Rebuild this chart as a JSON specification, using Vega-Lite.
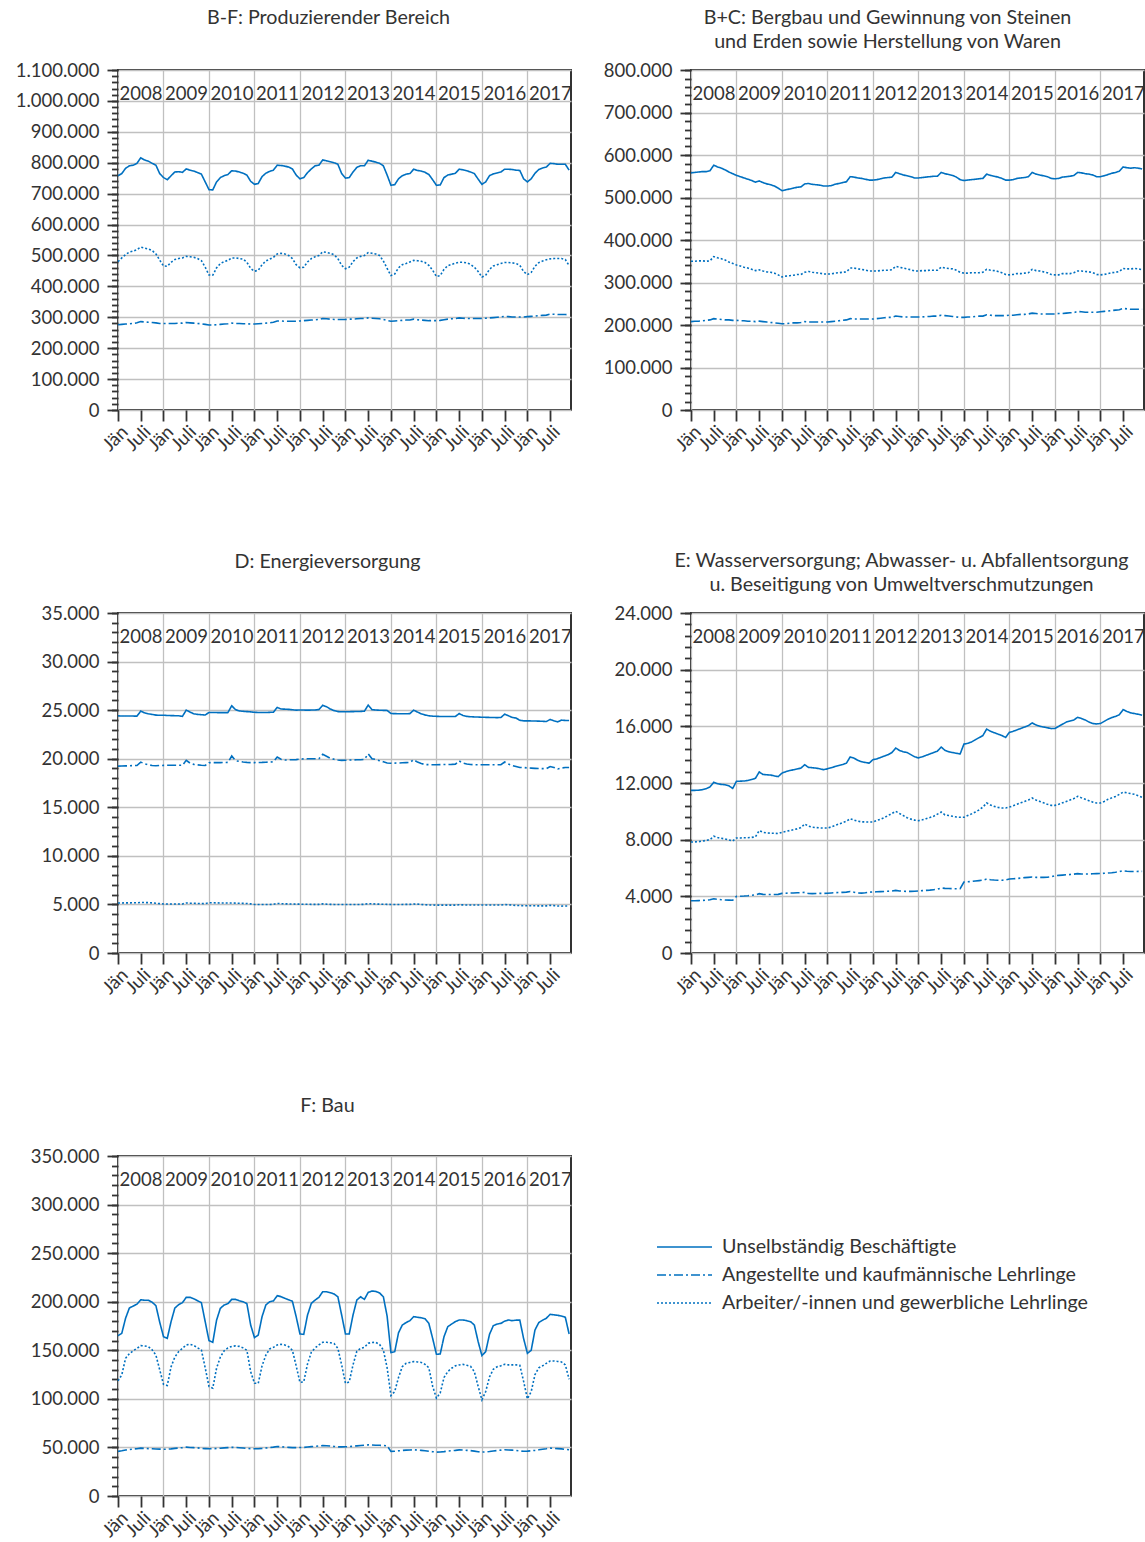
{
"$schema": "https://vega.github.io/schema/vega-lite/v6.json",
"padding": {"left": 14, "top": 7, "right": 0, "bottom": 0},
"background": "white",
"bounds": "flush",
"columns": 2,
"spacing": {"column": 120, "row": 203},
"config": {
  "font": "Lato",
  "view": {"stroke": "#333333", "strokeWidth": 2},
  "axis": {"labelFont": "Lato", "labelFontSize": 18.5, "labelColor": "#333333", "tickColor": "#333333", "tickWidth": 1.8, "gridColor": "#c0c0c0", "gridWidth": 1.3, "domain": false},
  "title": {"font": "Lato", "fontSize": 19.7, "fontWeight": "normal", "color": "#333333", "lineHeight": 24, "baseline": "bottom", "frame": "group"},
  "locale": {"number": {"decimal": ",", "thousands": ".", "grouping": [3], "currency": ["", " €"]}}
},
"resolve": {"scale": {"strokeDash": "independent"}, "legend": {"strokeDash": "independent"}},
"datasets": {
"bf": [
{"t":0,"U":758000,"A":276000,"R":480000},{"t":1,"U":765000,"A":277000,"R":492000},{"t":2,"U":782000,"A":278000,"R":503000},{"t":3,"U":790000,"A":279000,"R":511000},{"t":4,"U":792000,"A":280000,"R":514000},{"t":5,"U":798000,"A":282000,"R":519000},{"t":6,"U":816000,"A":286000,"R":527000},{"t":7,"U":809000,"A":285000,"R":524000},{"t":8,"U":805000,"A":284000,"R":521000},{"t":9,"U":798000,"A":283000,"R":516000},{"t":10,"U":792000,"A":282000,"R":505000},{"t":11,"U":765000,"A":280000,"R":485000},
{"t":12,"U":752000,"A":280000,"R":466000},{"t":13,"U":745000,"A":280000,"R":465000},{"t":14,"U":758000,"A":280000,"R":478000},{"t":15,"U":770000,"A":280000,"R":487000},{"t":16,"U":771000,"A":281000,"R":490000},{"t":17,"U":769000,"A":281000,"R":492000},{"t":18,"U":780000,"A":283000,"R":497000},{"t":19,"U":776000,"A":282000,"R":496000},{"t":20,"U":773000,"A":281000,"R":494000},{"t":21,"U":768000,"A":280000,"R":490000},{"t":22,"U":763000,"A":279000,"R":483000},{"t":23,"U":738000,"A":277000,"R":462000},
{"t":24,"U":713000,"A":275000,"R":437000},{"t":25,"U":712000,"A":275000,"R":436000},{"t":26,"U":738000,"A":276000,"R":460000},{"t":27,"U":752000,"A":277000,"R":474000},{"t":28,"U":758000,"A":278000,"R":480000},{"t":29,"U":762000,"A":279000,"R":484000},{"t":30,"U":774000,"A":281000,"R":492000},{"t":31,"U":773000,"A":280000,"R":492000},{"t":32,"U":770000,"A":280000,"R":490000},{"t":33,"U":766000,"A":279000,"R":488000},{"t":34,"U":760000,"A":279000,"R":478000},{"t":35,"U":740000,"A":278000,"R":458000},
{"t":36,"U":730000,"A":278000,"R":449000},{"t":37,"U":733000,"A":279000,"R":452000},{"t":38,"U":755000,"A":280000,"R":470000},{"t":39,"U":766000,"A":281000,"R":482000},{"t":40,"U":772000,"A":282000,"R":488000},{"t":41,"U":776000,"A":284000,"R":494000},{"t":42,"U":792000,"A":288000,"R":505000},{"t":43,"U":791000,"A":288000,"R":507000},{"t":44,"U":789000,"A":287000,"R":505000},{"t":45,"U":786000,"A":287000,"R":500000},{"t":46,"U":780000,"A":287000,"R":490000},{"t":47,"U":760000,"A":287000,"R":470000},
{"t":48,"U":748000,"A":288000,"R":460000},{"t":49,"U":752000,"A":289000,"R":462000},{"t":50,"U":768000,"A":290000,"R":479000},{"t":51,"U":780000,"A":291000,"R":490000},{"t":52,"U":790000,"A":292000,"R":496000},{"t":53,"U":792000,"A":293000,"R":500000},{"t":54,"U":809000,"A":296000,"R":512000},{"t":55,"U":806000,"A":295000,"R":510000},{"t":56,"U":803000,"A":294000,"R":507000},{"t":57,"U":800000,"A":293000,"R":502000},{"t":58,"U":795000,"A":293000,"R":490000},{"t":59,"U":765000,"A":293000,"R":468000},
{"t":60,"U":750000,"A":293000,"R":457000},{"t":61,"U":752000,"A":294000,"R":462000},{"t":62,"U":770000,"A":294000,"R":480000},{"t":63,"U":785000,"A":295000,"R":492000},{"t":64,"U":790000,"A":296000,"R":497000},{"t":65,"U":790000,"A":296000,"R":500000},{"t":66,"U":808000,"A":298000,"R":509000},{"t":67,"U":805000,"A":297000,"R":507000},{"t":68,"U":802000,"A":296000,"R":505000},{"t":69,"U":798000,"A":295000,"R":500000},{"t":70,"U":790000,"A":293000,"R":482000},{"t":71,"U":760000,"A":290000,"R":458000},
{"t":72,"U":727000,"A":287000,"R":435000},{"t":73,"U":729000,"A":288000,"R":440000},{"t":74,"U":748000,"A":289000,"R":460000},{"t":75,"U":758000,"A":290000,"R":470000},{"t":76,"U":763000,"A":291000,"R":474000},{"t":77,"U":765000,"A":291000,"R":479000},{"t":78,"U":779000,"A":294000,"R":484000},{"t":79,"U":775000,"A":292000,"R":483000},{"t":80,"U":773000,"A":291000,"R":481000},{"t":81,"U":769000,"A":290000,"R":477000},{"t":82,"U":762000,"A":289000,"R":468000},{"t":83,"U":745000,"A":289000,"R":452000},
{"t":84,"U":727000,"A":289000,"R":432000},{"t":85,"U":728000,"A":290000,"R":435000},{"t":86,"U":752000,"A":292000,"R":455000},{"t":87,"U":760000,"A":294000,"R":467000},{"t":88,"U":763000,"A":295000,"R":471000},{"t":89,"U":766000,"A":296000,"R":475000},{"t":90,"U":779000,"A":298000,"R":478000},{"t":91,"U":777000,"A":297000,"R":478000},{"t":92,"U":774000,"A":296000,"R":476000},{"t":93,"U":770000,"A":296000,"R":471000},{"t":94,"U":765000,"A":296000,"R":462000},{"t":95,"U":747000,"A":296000,"R":448000},
{"t":96,"U":730000,"A":296000,"R":430000},{"t":97,"U":738000,"A":297000,"R":436000},{"t":98,"U":758000,"A":298000,"R":455000},{"t":99,"U":764000,"A":299000,"R":466000},{"t":100,"U":767000,"A":300000,"R":470000},{"t":101,"U":770000,"A":301000,"R":474000},{"t":102,"U":779000,"A":303000,"R":477000},{"t":103,"U":779000,"A":302000,"R":477000},{"t":104,"U":778000,"A":301000,"R":476000},{"t":105,"U":776000,"A":301000,"R":474000},{"t":106,"U":775000,"A":301000,"R":468000},{"t":107,"U":748000,"A":301000,"R":448000},
{"t":108,"U":738000,"A":302000,"R":438000},{"t":109,"U":748000,"A":303000,"R":445000},{"t":110,"U":766000,"A":304000,"R":465000},{"t":111,"U":778000,"A":305000,"R":477000},{"t":112,"U":783000,"A":306000,"R":482000},{"t":113,"U":786000,"A":307000,"R":486000},{"t":114,"U":798000,"A":310000,"R":489000},{"t":115,"U":797000,"A":310000,"R":490000},{"t":116,"U":795000,"A":309000,"R":490000},{"t":117,"U":795000,"A":309000,"R":490000},{"t":118,"U":795000,"A":309000,"R":487000},{"t":119,"U":776000,"A":308000,"R":467000}
],
"bc": [
{"t":0,"U":558000,"A":208000,"R":350000},{"t":1,"U":559000,"A":209000,"R":350000},{"t":2,"U":560000,"A":209000,"R":351000},{"t":3,"U":561000,"A":210000,"R":351000},{"t":4,"U":561000,"A":211000,"R":350000},{"t":5,"U":563000,"A":212000,"R":351000},{"t":6,"U":576000,"A":215000,"R":361000},{"t":7,"U":572000,"A":214000,"R":358000},{"t":8,"U":569000,"A":213000,"R":356000},{"t":9,"U":565000,"A":212000,"R":353000},{"t":10,"U":560000,"A":212000,"R":348000},{"t":11,"U":556000,"A":211000,"R":345000},
{"t":12,"U":552000,"A":211000,"R":341000},{"t":13,"U":549000,"A":210000,"R":339000},{"t":14,"U":546000,"A":210000,"R":336000},{"t":15,"U":543000,"A":209000,"R":334000},{"t":16,"U":540000,"A":209000,"R":331000},{"t":17,"U":536000,"A":208000,"R":328000},{"t":18,"U":539000,"A":209000,"R":330000},{"t":19,"U":535000,"A":208000,"R":327000},{"t":20,"U":532000,"A":207000,"R":325000},{"t":21,"U":530000,"A":206000,"R":324000},{"t":22,"U":527000,"A":205000,"R":322000},{"t":23,"U":522000,"A":204000,"R":318000},
{"t":24,"U":516000,"A":203000,"R":313000},{"t":25,"U":518000,"A":203000,"R":315000},{"t":26,"U":520000,"A":204000,"R":316000},{"t":27,"U":522000,"A":205000,"R":317000},{"t":28,"U":524000,"A":205000,"R":319000},{"t":29,"U":525000,"A":206000,"R":319000},{"t":30,"U":532000,"A":208000,"R":324000},{"t":31,"U":533000,"A":207000,"R":326000},{"t":32,"U":531000,"A":207000,"R":324000},{"t":33,"U":530000,"A":207000,"R":323000},{"t":34,"U":529000,"A":207000,"R":322000},{"t":35,"U":527000,"A":207000,"R":320000},
{"t":36,"U":527000,"A":207000,"R":320000},{"t":37,"U":528000,"A":208000,"R":320000},{"t":38,"U":531000,"A":209000,"R":322000},{"t":39,"U":533000,"A":210000,"R":323000},{"t":40,"U":535000,"A":211000,"R":324000},{"t":41,"U":537000,"A":212000,"R":325000},{"t":42,"U":549000,"A":215000,"R":334000},{"t":43,"U":548000,"A":214000,"R":334000},{"t":44,"U":546000,"A":214000,"R":332000},{"t":45,"U":545000,"A":214000,"R":331000},{"t":46,"U":543000,"A":214000,"R":329000},{"t":47,"U":541000,"A":214000,"R":327000},
{"t":48,"U":541000,"A":214000,"R":327000},{"t":49,"U":542000,"A":215000,"R":327000},{"t":50,"U":544000,"A":216000,"R":328000},{"t":51,"U":546000,"A":217000,"R":329000},{"t":52,"U":547000,"A":218000,"R":329000},{"t":53,"U":548000,"A":218000,"R":330000},{"t":54,"U":559000,"A":221000,"R":338000},{"t":55,"U":556000,"A":220000,"R":336000},{"t":56,"U":553000,"A":219000,"R":334000},{"t":57,"U":551000,"A":219000,"R":332000},{"t":58,"U":549000,"A":219000,"R":330000},{"t":59,"U":546000,"A":219000,"R":327000},
{"t":60,"U":546000,"A":219000,"R":327000},{"t":61,"U":547000,"A":219000,"R":328000},{"t":62,"U":548000,"A":220000,"R":328000},{"t":63,"U":549000,"A":220000,"R":329000},{"t":64,"U":550000,"A":221000,"R":329000},{"t":65,"U":550000,"A":221000,"R":329000},{"t":66,"U":559000,"A":223000,"R":336000},{"t":67,"U":556000,"A":222000,"R":334000},{"t":68,"U":554000,"A":221000,"R":333000},{"t":69,"U":552000,"A":220000,"R":332000},{"t":70,"U":548000,"A":219000,"R":329000},{"t":71,"U":542000,"A":218000,"R":324000},
{"t":72,"U":540000,"A":218000,"R":322000},{"t":73,"U":541000,"A":219000,"R":322000},{"t":74,"U":542000,"A":219000,"R":323000},{"t":75,"U":543000,"A":220000,"R":323000},{"t":76,"U":544000,"A":221000,"R":323000},{"t":77,"U":545000,"A":221000,"R":324000},{"t":78,"U":555000,"A":224000,"R":331000},{"t":79,"U":552000,"A":223000,"R":329000},{"t":80,"U":550000,"A":222000,"R":328000},{"t":81,"U":548000,"A":222000,"R":326000},{"t":82,"U":545000,"A":222000,"R":323000},{"t":83,"U":541000,"A":222000,"R":319000},
{"t":84,"U":541000,"A":223000,"R":318000},{"t":85,"U":542000,"A":223000,"R":319000},{"t":86,"U":545000,"A":224000,"R":321000},{"t":87,"U":546000,"A":225000,"R":321000},{"t":88,"U":547000,"A":225000,"R":322000},{"t":89,"U":549000,"A":226000,"R":323000},{"t":90,"U":559000,"A":228000,"R":331000},{"t":91,"U":555000,"A":227000,"R":328000},{"t":92,"U":553000,"A":226000,"R":327000},{"t":93,"U":551000,"A":226000,"R":325000},{"t":94,"U":549000,"A":226000,"R":323000},{"t":95,"U":545000,"A":226000,"R":319000},
{"t":96,"U":544000,"A":226000,"R":318000},{"t":97,"U":545000,"A":227000,"R":318000},{"t":98,"U":548000,"A":227000,"R":321000},{"t":99,"U":549000,"A":228000,"R":321000},{"t":100,"U":550000,"A":229000,"R":321000},{"t":101,"U":552000,"A":229000,"R":323000},{"t":102,"U":559000,"A":232000,"R":327000},{"t":103,"U":558000,"A":231000,"R":327000},{"t":104,"U":556000,"A":230000,"R":326000},{"t":105,"U":555000,"A":230000,"R":325000},{"t":106,"U":553000,"A":230000,"R":323000},{"t":107,"U":549000,"A":230000,"R":319000},
{"t":108,"U":549000,"A":231000,"R":318000},{"t":109,"U":551000,"A":232000,"R":319000},{"t":110,"U":554000,"A":233000,"R":321000},{"t":111,"U":557000,"A":234000,"R":323000},{"t":112,"U":559000,"A":235000,"R":324000},{"t":113,"U":562000,"A":236000,"R":326000},{"t":114,"U":572000,"A":239000,"R":333000},{"t":115,"U":570000,"A":238000,"R":332000},{"t":116,"U":569000,"A":237000,"R":332000},{"t":117,"U":570000,"A":237000,"R":333000},{"t":118,"U":569000,"A":237000,"R":332000},{"t":119,"U":567000,"A":237000,"R":330000}
],
"d": [
{"t":0,"U":24410,"A":19240,"R":5150},{"t":1,"U":24400,"A":19250,"R":5150},{"t":2,"U":24400,"A":19260,"R":5160},{"t":3,"U":24390,"A":19270,"R":5160},{"t":4,"U":24390,"A":19290,"R":5170},{"t":5,"U":24380,"A":19300,"R":5170},{"t":6,"U":24900,"A":19650,"R":5200},{"t":7,"U":24720,"A":19480,"R":5190},{"t":8,"U":24620,"A":19380,"R":5180},{"t":9,"U":24560,"A":19300,"R":5160},{"t":10,"U":24490,"A":19280,"R":5120},{"t":11,"U":24470,"A":19300,"R":5080},
{"t":12,"U":24480,"A":19310,"R":5050},{"t":13,"U":24450,"A":19320,"R":5040},{"t":14,"U":24440,"A":19320,"R":5040},{"t":15,"U":24430,"A":19330,"R":5040},{"t":16,"U":24420,"A":19330,"R":5040},{"t":17,"U":24360,"A":19330,"R":5050},{"t":18,"U":25000,"A":19830,"R":5150},{"t":19,"U":24800,"A":19550,"R":5130},{"t":20,"U":24620,"A":19420,"R":5120},{"t":21,"U":24560,"A":19370,"R":5100},{"t":22,"U":24530,"A":19330,"R":5090},{"t":23,"U":24500,"A":19300,"R":5080},
{"t":24,"U":24760,"A":19590,"R":5170},{"t":25,"U":24760,"A":19600,"R":5170},{"t":26,"U":24750,"A":19600,"R":5160},{"t":27,"U":24740,"A":19600,"R":5150},{"t":28,"U":24740,"A":19610,"R":5150},{"t":29,"U":24750,"A":19620,"R":5140},{"t":30,"U":25450,"A":20280,"R":5150},{"t":31,"U":25050,"A":19800,"R":5130},{"t":32,"U":24920,"A":19720,"R":5120},{"t":33,"U":24880,"A":19660,"R":5110},{"t":34,"U":24850,"A":19620,"R":5100},{"t":35,"U":24820,"A":19600,"R":5060},
{"t":36,"U":24780,"A":19600,"R":5000},{"t":37,"U":24760,"A":19610,"R":4990},{"t":38,"U":24750,"A":19620,"R":4990},{"t":39,"U":24760,"A":19640,"R":4990},{"t":40,"U":24770,"A":19660,"R":5000},{"t":41,"U":24790,"A":19680,"R":5010},{"t":42,"U":25280,"A":20170,"R":5100},{"t":43,"U":25120,"A":19940,"R":5080},{"t":44,"U":25100,"A":19870,"R":5060},{"t":45,"U":25080,"A":19880,"R":5050},{"t":46,"U":25040,"A":19900,"R":5040},{"t":47,"U":25000,"A":19910,"R":5030},
{"t":48,"U":25020,"A":19960,"R":5030},{"t":49,"U":25010,"A":19980,"R":5020},{"t":50,"U":25000,"A":19990,"R":5020},{"t":51,"U":25010,"A":20000,"R":5010},{"t":52,"U":25020,"A":20000,"R":5010},{"t":53,"U":25060,"A":20000,"R":5010},{"t":54,"U":25500,"A":20450,"R":5060},{"t":55,"U":25350,"A":20250,"R":5030},{"t":56,"U":25120,"A":20050,"R":5010},{"t":57,"U":24950,"A":19940,"R":5000},{"t":58,"U":24850,"A":19860,"R":5000},{"t":59,"U":24830,"A":19830,"R":4990},
{"t":60,"U":24830,"A":19840,"R":5000},{"t":61,"U":24840,"A":19860,"R":5000},{"t":62,"U":24850,"A":19880,"R":5000},{"t":63,"U":24860,"A":19890,"R":5000},{"t":64,"U":24870,"A":19900,"R":5000},{"t":65,"U":24890,"A":19920,"R":5010},{"t":66,"U":25520,"A":20500,"R":5080},{"t":67,"U":25050,"A":20000,"R":5060},{"t":68,"U":25010,"A":19920,"R":5040},{"t":69,"U":24990,"A":19800,"R":5030},{"t":70,"U":24980,"A":19680,"R":5020},{"t":71,"U":24970,"A":19560,"R":5010},
{"t":72,"U":24650,"A":19540,"R":5000},{"t":73,"U":24640,"A":19550,"R":5000},{"t":74,"U":24630,"A":19560,"R":5000},{"t":75,"U":24630,"A":19580,"R":5000},{"t":76,"U":24630,"A":19600,"R":5010},{"t":77,"U":24640,"A":19620,"R":5010},{"t":78,"U":25000,"A":19900,"R":5040},{"t":79,"U":24800,"A":19650,"R":5030},{"t":80,"U":24620,"A":19500,"R":5000},{"t":81,"U":24500,"A":19400,"R":4970},{"t":82,"U":24420,"A":19390,"R":4950},{"t":83,"U":24380,"A":19380,"R":4940},
{"t":84,"U":24360,"A":19380,"R":4930},{"t":85,"U":24350,"A":19390,"R":4930},{"t":86,"U":24350,"A":19400,"R":4930},{"t":87,"U":24340,"A":19410,"R":4930},{"t":88,"U":24340,"A":19420,"R":4930},{"t":89,"U":24350,"A":19440,"R":4930},{"t":90,"U":24650,"A":19770,"R":4960},{"t":91,"U":24450,"A":19550,"R":4950},{"t":92,"U":24360,"A":19450,"R":4940},{"t":93,"U":24320,"A":19400,"R":4940},{"t":94,"U":24300,"A":19380,"R":4940},{"t":95,"U":24290,"A":19380,"R":4940},
{"t":96,"U":24270,"A":19380,"R":4940},{"t":97,"U":24260,"A":19380,"R":4940},{"t":98,"U":24250,"A":19380,"R":4940},{"t":99,"U":24240,"A":19380,"R":4940},{"t":100,"U":24230,"A":19380,"R":4940},{"t":101,"U":24240,"A":19390,"R":4940},{"t":102,"U":24590,"A":19660,"R":4980},{"t":103,"U":24420,"A":19450,"R":4960},{"t":104,"U":24250,"A":19300,"R":4930},{"t":105,"U":24180,"A":19200,"R":4900},{"t":106,"U":23950,"A":19100,"R":4880},{"t":107,"U":23900,"A":19090,"R":4870},
{"t":108,"U":23900,"A":19050,"R":4860},{"t":109,"U":23890,"A":19030,"R":4860},{"t":110,"U":23880,"A":19010,"R":4860},{"t":111,"U":23870,"A":18990,"R":4850},{"t":112,"U":23850,"A":18980,"R":4850},{"t":113,"U":23830,"A":18970,"R":4850},{"t":114,"U":24040,"A":19200,"R":4900},{"t":115,"U":23900,"A":19100,"R":4880},{"t":116,"U":23800,"A":18940,"R":4840},{"t":117,"U":23970,"A":19050,"R":4830},{"t":118,"U":23940,"A":19090,"R":4840},{"t":119,"U":23930,"A":19100,"R":4840}
],
"e": [
{"t":0,"U":11480,"A":3690,"R":7840},{"t":1,"U":11480,"A":3690,"R":7840},{"t":2,"U":11490,"A":3700,"R":7860},{"t":3,"U":11530,"A":3710,"R":7900},{"t":4,"U":11600,"A":3730,"R":7950},{"t":5,"U":11720,"A":3760,"R":8000},{"t":6,"U":12050,"A":3830,"R":8240},{"t":7,"U":11950,"A":3790,"R":8150},{"t":8,"U":11900,"A":3760,"R":8100},{"t":9,"U":11880,"A":3740,"R":8050},{"t":10,"U":11800,"A":3730,"R":7980},{"t":11,"U":11620,"A":3720,"R":7900},
{"t":12,"U":12120,"A":4000,"R":8120},{"t":13,"U":12130,"A":4010,"R":8120},{"t":14,"U":12140,"A":4020,"R":8130},{"t":15,"U":12180,"A":4040,"R":8140},{"t":16,"U":12250,"A":4070,"R":8160},{"t":17,"U":12330,"A":4100,"R":8200},{"t":18,"U":12780,"A":4190,"R":8640},{"t":19,"U":12600,"A":4140,"R":8520},{"t":20,"U":12580,"A":4130,"R":8480},{"t":21,"U":12560,"A":4130,"R":8460},{"t":22,"U":12500,"A":4130,"R":8450},{"t":23,"U":12450,"A":4140,"R":8430},
{"t":24,"U":12700,"A":4210,"R":8520},{"t":25,"U":12800,"A":4220,"R":8580},{"t":26,"U":12880,"A":4230,"R":8640},{"t":27,"U":12930,"A":4240,"R":8700},{"t":28,"U":12990,"A":4250,"R":8760},{"t":29,"U":13050,"A":4260,"R":8850},{"t":30,"U":13290,"A":4280,"R":9110},{"t":31,"U":13100,"A":4200,"R":8950},{"t":32,"U":13080,"A":4190,"R":8880},{"t":33,"U":13050,"A":4200,"R":8850},{"t":34,"U":13000,"A":4210,"R":8830},{"t":35,"U":12940,"A":4210,"R":8820},
{"t":36,"U":13000,"A":4220,"R":8820},{"t":37,"U":13080,"A":4240,"R":8900},{"t":38,"U":13160,"A":4260,"R":9000},{"t":39,"U":13230,"A":4270,"R":9100},{"t":40,"U":13300,"A":4280,"R":9200},{"t":41,"U":13400,"A":4300,"R":9300},{"t":42,"U":13840,"A":4340,"R":9480},{"t":43,"U":13750,"A":4290,"R":9380},{"t":44,"U":13600,"A":4240,"R":9300},{"t":45,"U":13500,"A":4230,"R":9260},{"t":46,"U":13450,"A":4250,"R":9250},{"t":47,"U":13400,"A":4290,"R":9250},
{"t":48,"U":13650,"A":4310,"R":9250},{"t":49,"U":13700,"A":4320,"R":9350},{"t":50,"U":13800,"A":4330,"R":9450},{"t":51,"U":13900,"A":4340,"R":9560},{"t":52,"U":14000,"A":4360,"R":9700},{"t":53,"U":14150,"A":4380,"R":9850},{"t":54,"U":14470,"A":4420,"R":10000},{"t":55,"U":14300,"A":4380,"R":9850},{"t":56,"U":14200,"A":4360,"R":9700},{"t":57,"U":14150,"A":4350,"R":9550},{"t":58,"U":14000,"A":4350,"R":9450},{"t":59,"U":13850,"A":4360,"R":9380},
{"t":60,"U":13770,"A":4380,"R":9340},{"t":61,"U":13850,"A":4400,"R":9400},{"t":62,"U":13950,"A":4420,"R":9480},{"t":63,"U":14050,"A":4440,"R":9560},{"t":64,"U":14150,"A":4470,"R":9650},{"t":65,"U":14250,"A":4500,"R":9800},{"t":66,"U":14540,"A":4590,"R":9950},{"t":67,"U":14300,"A":4560,"R":9750},{"t":68,"U":14200,"A":4550,"R":9700},{"t":69,"U":14150,"A":4540,"R":9650},{"t":70,"U":14100,"A":4540,"R":9600},{"t":71,"U":14050,"A":4540,"R":9580},
{"t":72,"U":14750,"A":5010,"R":9580},{"t":73,"U":14800,"A":5030,"R":9700},{"t":74,"U":14900,"A":5050,"R":9820},{"t":75,"U":15050,"A":5080,"R":9950},{"t":76,"U":15200,"A":5110,"R":10100},{"t":77,"U":15350,"A":5140,"R":10300},{"t":78,"U":15810,"A":5220,"R":10590},{"t":79,"U":15650,"A":5170,"R":10450},{"t":80,"U":15550,"A":5150,"R":10350},{"t":81,"U":15450,"A":5140,"R":10280},{"t":82,"U":15350,"A":5140,"R":10240},{"t":83,"U":15220,"A":5150,"R":10240},
{"t":84,"U":15580,"A":5220,"R":10300},{"t":85,"U":15650,"A":5240,"R":10400},{"t":86,"U":15750,"A":5260,"R":10500},{"t":87,"U":15850,"A":5290,"R":10600},{"t":88,"U":15950,"A":5320,"R":10700},{"t":89,"U":16050,"A":5340,"R":10800},{"t":90,"U":16240,"A":5360,"R":10940},{"t":91,"U":16100,"A":5340,"R":10800},{"t":92,"U":16000,"A":5340,"R":10700},{"t":93,"U":15950,"A":5340,"R":10600},{"t":94,"U":15900,"A":5350,"R":10500},{"t":95,"U":15840,"A":5380,"R":10420},
{"t":96,"U":15850,"A":5460,"R":10420},{"t":97,"U":16000,"A":5480,"R":10500},{"t":98,"U":16150,"A":5500,"R":10600},{"t":99,"U":16300,"A":5520,"R":10700},{"t":100,"U":16380,"A":5540,"R":10800},{"t":101,"U":16450,"A":5570,"R":10900},{"t":102,"U":16640,"A":5600,"R":11060},{"t":103,"U":16550,"A":5580,"R":10950},{"t":104,"U":16450,"A":5580,"R":10850},{"t":105,"U":16300,"A":5580,"R":10750},{"t":106,"U":16200,"A":5590,"R":10650},{"t":107,"U":16170,"A":5600,"R":10590},
{"t":108,"U":16200,"A":5610,"R":10590},{"t":109,"U":16350,"A":5630,"R":10700},{"t":110,"U":16500,"A":5650,"R":10850},{"t":111,"U":16620,"A":5670,"R":10950},{"t":112,"U":16700,"A":5700,"R":11050},{"t":113,"U":16820,"A":5740,"R":11200},{"t":114,"U":17180,"A":5810,"R":11360},{"t":115,"U":17050,"A":5770,"R":11300},{"t":116,"U":16950,"A":5750,"R":11250},{"t":117,"U":16900,"A":5750,"R":11200},{"t":118,"U":16850,"A":5760,"R":11100},{"t":119,"U":16780,"A":5760,"R":10990}
],
"f": [
{"t":0,"U":165000,"A":45900,"R":118500},{"t":1,"U":167500,"A":46500,"R":124700},{"t":2,"U":183000,"A":47300,"R":141800},{"t":3,"U":193500,"A":47800,"R":146500},{"t":4,"U":195500,"A":48300,"R":149500},{"t":5,"U":197500,"A":48700,"R":152000},{"t":6,"U":202000,"A":49300,"R":154800},{"t":7,"U":201500,"A":49000,"R":154500},{"t":8,"U":201500,"A":48800,"R":153800},{"t":9,"U":199500,"A":48600,"R":150500},{"t":10,"U":196000,"A":48400,"R":145000},{"t":11,"U":179000,"A":48300,"R":130000},
{"t":12,"U":164000,"A":48200,"R":115000},{"t":13,"U":162300,"A":48200,"R":113700},{"t":14,"U":179500,"A":48500,"R":133000},{"t":15,"U":193500,"A":49000,"R":143000},{"t":16,"U":197000,"A":49400,"R":148600},{"t":17,"U":199000,"A":49800,"R":152000},{"t":18,"U":204500,"A":50300,"R":155500},{"t":19,"U":204500,"A":50000,"R":156200},{"t":20,"U":203000,"A":49800,"R":155000},{"t":21,"U":201000,"A":49500,"R":152500},{"t":22,"U":199000,"A":49000,"R":150300},{"t":23,"U":179500,"A":48800,"R":132000},
{"t":24,"U":160000,"A":48600,"R":112700},{"t":25,"U":158200,"A":48600,"R":111000},{"t":26,"U":181000,"A":48900,"R":131500},{"t":27,"U":193200,"A":49200,"R":143000},{"t":28,"U":196600,"A":49500,"R":149500},{"t":29,"U":198000,"A":49800,"R":152500},{"t":30,"U":202400,"A":50100,"R":154000},{"t":31,"U":202400,"A":49900,"R":154500},{"t":32,"U":201000,"A":49700,"R":154000},{"t":33,"U":200000,"A":49400,"R":152500},{"t":34,"U":198000,"A":49000,"R":150000},{"t":35,"U":176000,"A":48800,"R":128000},
{"t":36,"U":163000,"A":48600,"R":116000},{"t":37,"U":165700,"A":48700,"R":116000},{"t":38,"U":184600,"A":49000,"R":134000},{"t":39,"U":196600,"A":49400,"R":145000},{"t":40,"U":200000,"A":49800,"R":151400},{"t":41,"U":200800,"A":50300,"R":153000},{"t":42,"U":206200,"A":51000,"R":155500},{"t":43,"U":205200,"A":50700,"R":156200},{"t":44,"U":203500,"A":50400,"R":155500},{"t":45,"U":202000,"A":50100,"R":153800},{"t":46,"U":200500,"A":49800,"R":150000},{"t":47,"U":184600,"A":49800,"R":134000},
{"t":48,"U":166800,"A":49900,"R":117000},{"t":49,"U":166400,"A":50000,"R":117500},{"t":50,"U":186300,"A":50400,"R":136000},{"t":51,"U":198300,"A":50800,"R":148000},{"t":52,"U":201700,"A":51200,"R":152500},{"t":53,"U":204500,"A":51500,"R":155500},{"t":54,"U":210300,"A":52000,"R":158200},{"t":55,"U":210300,"A":51700,"R":158200},{"t":56,"U":209300,"A":51400,"R":157800},{"t":57,"U":208000,"A":51000,"R":157000},{"t":58,"U":205100,"A":50600,"R":152000},{"t":59,"U":186300,"A":50600,"R":135000},
{"t":60,"U":166800,"A":50700,"R":116000},{"t":61,"U":166800,"A":50800,"R":117500},{"t":62,"U":186300,"A":51200,"R":135000},{"t":63,"U":201700,"A":51600,"R":149000},{"t":64,"U":205100,"A":52000,"R":152000},{"t":65,"U":202400,"A":52300,"R":153000},{"t":66,"U":209600,"A":52700,"R":157200},{"t":67,"U":211000,"A":52500,"R":158000},{"t":68,"U":210600,"A":52300,"R":158200},{"t":69,"U":209000,"A":52200,"R":156000},{"t":70,"U":205100,"A":52000,"R":150300},{"t":71,"U":185000,"A":51700,"R":132000},
{"t":72,"U":147600,"A":45900,"R":103400},{"t":73,"U":148600,"A":46100,"R":107500},{"t":74,"U":168000,"A":46500,"R":122000},{"t":75,"U":176000,"A":46900,"R":133200},{"t":76,"U":178500,"A":47200,"R":136600},{"t":77,"U":180500,"A":47400,"R":137500},{"t":78,"U":184600,"A":47600,"R":138400},{"t":79,"U":184000,"A":47300,"R":138000},{"t":80,"U":183500,"A":47000,"R":137500},{"t":81,"U":182500,"A":46600,"R":135500},{"t":82,"U":177700,"A":46000,"R":132000},{"t":83,"U":162300,"A":45600,"R":113000},
{"t":84,"U":145900,"A":45200,"R":100700},{"t":85,"U":146200,"A":45300,"R":106000},{"t":86,"U":164000,"A":45700,"R":122000},{"t":87,"U":174300,"A":46200,"R":128100},{"t":88,"U":177000,"A":46600,"R":131500},{"t":89,"U":179500,"A":47000,"R":134000},{"t":90,"U":181200,"A":47500,"R":134900},{"t":91,"U":181200,"A":47300,"R":135500},{"t":92,"U":180500,"A":47000,"R":134500},{"t":93,"U":179500,"A":46700,"R":133500},{"t":94,"U":176000,"A":46200,"R":128000},{"t":95,"U":159000,"A":45600,"R":113000},
{"t":96,"U":144500,"A":45200,"R":99000},{"t":97,"U":148600,"A":45400,"R":107500},{"t":98,"U":166400,"A":45800,"R":122500},{"t":99,"U":175300,"A":46400,"R":130500},{"t":100,"U":177000,"A":46800,"R":133000},{"t":101,"U":177700,"A":47200,"R":134000},{"t":102,"U":180000,"A":47600,"R":135600},{"t":103,"U":181200,"A":47400,"R":135000},{"t":104,"U":180500,"A":47200,"R":135000},{"t":105,"U":181000,"A":46900,"R":135000},{"t":106,"U":181000,"A":46400,"R":134500},{"t":107,"U":162000,"A":46000,"R":118000},
{"t":108,"U":146900,"A":46200,"R":100000},{"t":109,"U":150000,"A":46500,"R":107500},{"t":110,"U":170900,"A":47000,"R":125000},{"t":111,"U":178500,"A":47600,"R":132000},{"t":112,"U":181000,"A":48200,"R":134000},{"t":113,"U":183000,"A":48700,"R":136600},{"t":114,"U":187000,"A":49300,"R":139000},{"t":115,"U":186500,"A":49000,"R":139000},{"t":116,"U":186000,"A":48800,"R":138500},{"t":117,"U":185200,"A":48500,"R":138000},{"t":118,"U":184000,"A":48000,"R":135000},{"t":119,"U":166800,"A":47600,"R":120200}
]
},
"concat": [
{
 "width": 453, "height": 340,
 "title": {"text": "B-F: Produzierender Bereich", "dx": -16, "offset": 33},
 "data": {"name": "bf"},
 "transform": [{"fold": ["U", "A", "R"], "as": ["s", "v"]}],
 "encoding": {"strokeDash": {"field": "s", "type": "nominal", "scale": {"domain": ["U", "A", "R"], "range": [[1, 0], [9, 3, 2, 3], [2, 2]]}, "legend": null}},
 "layer": [
  {"transform": [{"filter": "datum.s === 'U'"}],
   "mark": {"type": "line", "color": "#0070C0", "strokeWidth": 1.6},
   "encoding": {
    "x": {"field": "t", "type": "quantitative", "scale": {"domain": [0, 119.5], "nice": false, "zero": false},
          "axis": {"orient": "bottom", "title": null, "values": [0,6,12,18,24,30,36,42,48,54,60,66,72,78,84,90,96,102,108,114], "labelExpr": "datum.value % 12 === 0 ? 'Jän' : 'Juli'", "labelAngle": -45, "labelAlign": "right", "labelBaseline": "top", "tickSize": 11, "grid": false, "labelPadding": 1, "labelOverlap": false, "labelFlush": false, "labelBound": false}},
    "y": {"field": "v", "type": "quantitative", "scale": {"domain": [0, 1100000], "nice": false},
          "axis": {"title": null, "values": [0,100000,200000,300000,400000,500000,600000,700000,800000,900000,1000000,1100000], "format": ",d", "tickSize": 11, "grid": true, "labelPadding": 8, "labelOverlap": false, "labelBound": false}}
   }},
  {"transform": [{"filter": "datum.s !== 'U'"}],
   "mark": {"type": "line", "color": "#0070C0", "strokeWidth": 1.6},
   "encoding": {
    "x": {"field": "t", "type": "quantitative", "scale": {"domain": [0, 119.5], "nice": false, "zero": false},
          "axis": {"orient": "top", "title": null, "values": [0,12,24,36,48,60,72,84,96,108], "labelExpr": "'' + (2008 + datum.value / 12)", "ticks": false, "grid": true, "labelPadding": -23, "labelBaseline": "middle", "labelAlign": "left", "labelOffset": 1, "labelOverlap": false, "labelFlush": false, "labelBound": false}},
    "y": {"field": "v", "type": "quantitative", "scale": {"domain": [0, 1100000], "nice": false},
          "axis": {"title": null, "orient": "left", "values": [0,20000,40000,60000,80000,100000,120000,140000,160000,180000,200000,220000,240000,260000,280000,300000,320000,340000,360000,380000,400000,420000,440000,460000,480000,500000,520000,540000,560000,580000,600000,620000,640000,660000,680000,700000,720000,740000,760000,780000,800000,820000,840000,860000,880000,900000,920000,940000,960000,980000,1000000,1020000,1040000,1060000,1080000,1100000], "labels": false, "tickSize": 6.5, "grid": false}}
   }}
 ],
 "resolve": {"axis": {"x": "independent", "y": "independent"}}
},
{
 "width": 453, "height": 340,
 "title": {"text": ["B+C: Bergbau und Gewinnung von Steinen", "und Erden sowie Herstellung von Waren"], "dx": -30, "offset": 9},
 "data": {"name": "bc"},
 "transform": [{"fold": ["U", "A", "R"], "as": ["s", "v"]}],
 "encoding": {"strokeDash": {"field": "s", "type": "nominal", "scale": {"domain": ["U", "A", "R"], "range": [[1, 0], [9, 3, 2, 3], [2, 2]]}, "legend": null}},
 "layer": [
  {"transform": [{"filter": "datum.s === 'U'"}],
   "mark": {"type": "line", "color": "#0070C0", "strokeWidth": 1.6},
   "encoding": {
    "x": {"field": "t", "type": "quantitative", "scale": {"domain": [0, 119.5], "nice": false, "zero": false},
          "axis": {"orient": "bottom", "title": null, "values": [0,6,12,18,24,30,36,42,48,54,60,66,72,78,84,90,96,102,108,114], "labelExpr": "datum.value % 12 === 0 ? 'Jän' : 'Juli'", "labelAngle": -45, "labelAlign": "right", "labelBaseline": "top", "tickSize": 11, "grid": false, "labelPadding": 1, "labelOverlap": false, "labelFlush": false, "labelBound": false}},
    "y": {"field": "v", "type": "quantitative", "scale": {"domain": [0, 800000], "nice": false},
          "axis": {"title": null, "values": [0,100000,200000,300000,400000,500000,600000,700000,800000], "format": ",d", "tickSize": 11, "grid": true, "labelPadding": 8, "labelOverlap": false, "labelBound": false}}
   }},
  {"transform": [{"filter": "datum.s !== 'U'"}],
   "mark": {"type": "line", "color": "#0070C0", "strokeWidth": 1.6},
   "encoding": {
    "x": {"field": "t", "type": "quantitative", "scale": {"domain": [0, 119.5], "nice": false, "zero": false},
          "axis": {"orient": "top", "title": null, "values": [0,12,24,36,48,60,72,84,96,108], "labelExpr": "'' + (2008 + datum.value / 12)", "ticks": false, "grid": true, "labelPadding": -23, "labelBaseline": "middle", "labelAlign": "left", "labelOffset": 1, "labelOverlap": false, "labelFlush": false, "labelBound": false}},
    "y": {"field": "v", "type": "quantitative", "scale": {"domain": [0, 800000], "nice": false},
          "axis": {"title": null, "orient": "left", "values": [0,20000,40000,60000,80000,100000,120000,140000,160000,180000,200000,220000,240000,260000,280000,300000,320000,340000,360000,380000,400000,420000,440000,460000,480000,500000,520000,540000,560000,580000,600000,620000,640000,660000,680000,700000,720000,740000,760000,780000,800000], "labels": false, "tickSize": 6.5, "grid": false}}
   }}
 ],
 "resolve": {"axis": {"x": "independent", "y": "independent"}}
},
{
 "width": 453, "height": 340,
 "title": {"text": "D: Energieversorgung", "dx": -17, "offset": 32},
 "data": {"name": "d"},
 "transform": [{"fold": ["U", "A", "R"], "as": ["s", "v"]}],
 "encoding": {"strokeDash": {"field": "s", "type": "nominal", "scale": {"domain": ["U", "A", "R"], "range": [[1, 0], [9, 3, 2, 3], [2, 2]]}, "legend": null}},
 "layer": [
  {"transform": [{"filter": "datum.s === 'U'"}],
   "mark": {"type": "line", "color": "#0070C0", "strokeWidth": 1.6},
   "encoding": {
    "x": {"field": "t", "type": "quantitative", "scale": {"domain": [0, 119.5], "nice": false, "zero": false},
          "axis": {"orient": "bottom", "title": null, "values": [0,6,12,18,24,30,36,42,48,54,60,66,72,78,84,90,96,102,108,114], "labelExpr": "datum.value % 12 === 0 ? 'Jän' : 'Juli'", "labelAngle": -45, "labelAlign": "right", "labelBaseline": "top", "tickSize": 11, "grid": false, "labelPadding": 1, "labelOverlap": false, "labelFlush": false, "labelBound": false}},
    "y": {"field": "v", "type": "quantitative", "scale": {"domain": [0, 35000], "nice": false},
          "axis": {"title": null, "values": [0,5000,10000,15000,20000,25000,30000,35000], "format": ",d", "tickSize": 11, "grid": true, "labelPadding": 8, "labelOverlap": false, "labelBound": false}}
   }},
  {"transform": [{"filter": "datum.s !== 'U'"}],
   "mark": {"type": "line", "color": "#0070C0", "strokeWidth": 1.6},
   "encoding": {
    "x": {"field": "t", "type": "quantitative", "scale": {"domain": [0, 119.5], "nice": false, "zero": false},
          "axis": {"orient": "top", "title": null, "values": [0,12,24,36,48,60,72,84,96,108], "labelExpr": "'' + (2008 + datum.value / 12)", "ticks": false, "grid": true, "labelPadding": -23, "labelBaseline": "middle", "labelAlign": "left", "labelOffset": 1, "labelOverlap": false, "labelFlush": false, "labelBound": false}},
    "y": {"field": "v", "type": "quantitative", "scale": {"domain": [0, 35000], "nice": false},
          "axis": {"title": null, "orient": "left", "values": [0,1000,2000,3000,4000,5000,6000,7000,8000,9000,10000,11000,12000,13000,14000,15000,16000,17000,18000,19000,20000,21000,22000,23000,24000,25000,26000,27000,28000,29000,30000,31000,32000,33000,34000,35000], "labels": false, "tickSize": 6.5, "grid": false}}
   }}
 ],
 "resolve": {"axis": {"x": "independent", "y": "independent"}}
},
{
 "width": 453, "height": 340,
 "title": {"text": ["E: Wasserversorgung; Abwasser- u. Abfallentsorgung", "u. Beseitigung von Umweltverschmutzungen"], "dx": -16, "offset": 9},
 "data": {"name": "e"},
 "transform": [{"fold": ["U", "A", "R"], "as": ["s", "v"]}],
 "encoding": {"strokeDash": {"field": "s", "type": "nominal", "scale": {"domain": ["U", "A", "R"], "range": [[1, 0], [9, 3, 2, 3], [2, 2]]}, "legend": null}},
 "layer": [
  {"transform": [{"filter": "datum.s === 'U'"}],
   "mark": {"type": "line", "color": "#0070C0", "strokeWidth": 1.6},
   "encoding": {
    "x": {"field": "t", "type": "quantitative", "scale": {"domain": [0, 119.5], "nice": false, "zero": false},
          "axis": {"orient": "bottom", "title": null, "values": [0,6,12,18,24,30,36,42,48,54,60,66,72,78,84,90,96,102,108,114], "labelExpr": "datum.value % 12 === 0 ? 'Jän' : 'Juli'", "labelAngle": -45, "labelAlign": "right", "labelBaseline": "top", "tickSize": 11, "grid": false, "labelPadding": 1, "labelOverlap": false, "labelFlush": false, "labelBound": false}},
    "y": {"field": "v", "type": "quantitative", "scale": {"domain": [0, 24000], "nice": false},
          "axis": {"title": null, "values": [0,4000,8000,12000,16000,20000,24000], "format": ",d", "tickSize": 11, "grid": true, "labelPadding": 8, "labelOverlap": false, "labelBound": false}}
   }},
  {"transform": [{"filter": "datum.s !== 'U'"}],
   "mark": {"type": "line", "color": "#0070C0", "strokeWidth": 1.6},
   "encoding": {
    "x": {"field": "t", "type": "quantitative", "scale": {"domain": [0, 119.5], "nice": false, "zero": false},
          "axis": {"orient": "top", "title": null, "values": [0,12,24,36,48,60,72,84,96,108], "labelExpr": "'' + (2008 + datum.value / 12)", "ticks": false, "grid": true, "labelPadding": -23, "labelBaseline": "middle", "labelAlign": "left", "labelOffset": 1, "labelOverlap": false, "labelFlush": false, "labelBound": false}},
    "y": {"field": "v", "type": "quantitative", "scale": {"domain": [0, 24000], "nice": false},
          "axis": {"title": null, "orient": "left", "values": [0,800,1600,2400,3200,4000,4800,5600,6400,7200,8000,8800,9600,10400,11200,12000,12800,13600,14400,15200,16000,16800,17600,18400,19200,20000,20800,21600,22400,23200,24000], "labels": false, "tickSize": 6.5, "grid": false}}
   }}
 ],
 "resolve": {"axis": {"x": "independent", "y": "independent"}}
},
{
 "width": 453, "height": 340,
 "title": {"text": "F: Bau", "dx": -17, "offset": 31},
 "data": {"name": "f"},
 "transform": [{"fold": ["U", "A", "R"], "as": ["s", "v"]}],
 "encoding": {"strokeDash": {"field": "s", "type": "nominal", "scale": {"domain": ["U", "A", "R"], "range": [[1, 0], [9, 3, 2, 3], [2, 2]]},
   "legend": {"orient": "none", "legendX": 538, "legendY": 80, "title": null, "padding": 0, "labelExpr": "datum.label === 'U' ? 'Unselbständig Beschäftigte' : datum.label === 'A' ? 'Angestellte und kaufmännische Lehrlinge' : 'Arbeiter/-innen und gewerbliche Lehrlinge'", "symbolType": "stroke", "symbolSize": 3025, "symbolStrokeWidth": 1.6, "symbolStrokeColor": "#0070C0", "labelFont": "Lato", "labelFontSize": 19.7, "labelColor": "#333333", "labelOffset": 9, "clipHeight": 22, "rowPadding": 6, "labelLimit": 500}}},
 "layer": [
  {"transform": [{"filter": "datum.s === 'U'"}],
   "mark": {"type": "line", "color": "#0070C0", "strokeWidth": 1.6},
   "encoding": {
    "x": {"field": "t", "type": "quantitative", "scale": {"domain": [0, 119.5], "nice": false, "zero": false},
          "axis": {"orient": "bottom", "title": null, "values": [0,6,12,18,24,30,36,42,48,54,60,66,72,78,84,90,96,102,108,114], "labelExpr": "datum.value % 12 === 0 ? 'Jän' : 'Juli'", "labelAngle": -45, "labelAlign": "right", "labelBaseline": "top", "tickSize": 11, "grid": false, "labelPadding": 1, "labelOverlap": false, "labelFlush": false, "labelBound": false}},
    "y": {"field": "v", "type": "quantitative", "scale": {"domain": [0, 350000], "nice": false},
          "axis": {"title": null, "values": [0,50000,100000,150000,200000,250000,300000,350000], "format": ",d", "tickSize": 11, "grid": true, "labelPadding": 8, "labelOverlap": false, "labelBound": false}}
   }},
  {"transform": [{"filter": "datum.s !== 'U'"}],
   "mark": {"type": "line", "color": "#0070C0", "strokeWidth": 1.6},
   "encoding": {
    "x": {"field": "t", "type": "quantitative", "scale": {"domain": [0, 119.5], "nice": false, "zero": false},
          "axis": {"orient": "top", "title": null, "values": [0,12,24,36,48,60,72,84,96,108], "labelExpr": "'' + (2008 + datum.value / 12)", "ticks": false, "grid": true, "labelPadding": -23, "labelBaseline": "middle", "labelAlign": "left", "labelOffset": 1, "labelOverlap": false, "labelFlush": false, "labelBound": false}},
    "y": {"field": "v", "type": "quantitative", "scale": {"domain": [0, 350000], "nice": false},
          "axis": {"title": null, "orient": "left", "values": [0,10000,20000,30000,40000,50000,60000,70000,80000,90000,100000,110000,120000,130000,140000,150000,160000,170000,180000,190000,200000,210000,220000,230000,240000,250000,260000,270000,280000,290000,300000,310000,320000,330000,340000,350000], "labels": false, "tickSize": 6.5, "grid": false}}
   }}
 ],
 "resolve": {"axis": {"x": "independent", "y": "independent"}}
}
]
}
